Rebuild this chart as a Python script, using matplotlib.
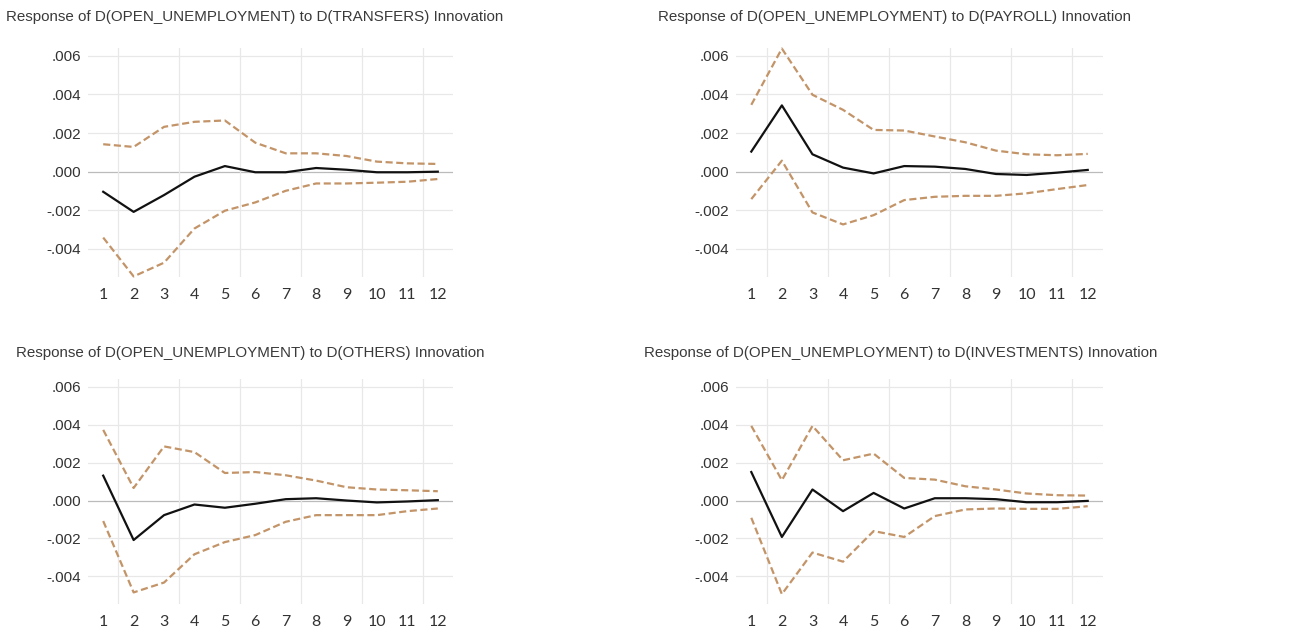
import numpy as np
import matplotlib
matplotlib.use("Agg")
import matplotlib.pyplot as plt

# horizon periods
periods = np.arange(1, 13)

# values in units of 1e-3
transfers_resp = [-1.04, -2.08, -1.21, -0.26, 0.29, -0.03, -0.03, 0.19, 0.10, -0.03, -0.03, 0.00]
transfers_up = [1.42, 1.28, 2.32, 2.58, 2.65, 1.50, 0.95, 0.95, 0.81, 0.52, 0.43, 0.40]
transfers_lo = [-3.41, -5.42, -4.71, -2.94, -2.02, -1.59, -0.99, -0.61, -0.61, -0.57, -0.52, -0.38]

payroll_resp = [1.04, 3.43, 0.90, 0.21, -0.09, 0.29, 0.26, 0.14, -0.12, -0.17, -0.05, 0.09]
payroll_up = [3.46, 6.37, 3.98, 3.20, 2.16, 2.13, 1.82, 1.52, 1.09, 0.90, 0.85, 0.92]
payroll_lo = [-1.42, 0.57, -2.11, -2.73, -2.25, -1.47, -1.30, -1.25, -1.25, -1.12, -0.90, -0.69]

others_resp = [1.31, -2.08, -0.77, -0.21, -0.38, -0.17, 0.07, 0.12, 0.00, -0.10, -0.05, 0.02]
others_up = [3.72, 0.66, 2.85, 2.55, 1.45, 1.50, 1.33, 1.05, 0.70, 0.58, 0.54, 0.49]
others_lo = [-1.08, -4.84, -4.32, -2.83, -2.19, -1.82, -1.12, -0.77, -0.77, -0.77, -0.56, -0.42]

invest_resp = [1.50, -1.92, 0.58, -0.56, 0.40, -0.42, 0.12, 0.12, 0.07, -0.09, -0.09, -0.02]
invest_up = [3.93, 1.07, 3.93, 2.12, 2.47, 1.19, 1.10, 0.75, 0.58, 0.37, 0.28, 0.26]
invest_lo = [-0.91, -4.93, -2.74, -3.22, -1.61, -1.92, -0.82, -0.47, -0.42, -0.44, -0.44, -0.30]

titles = [
    "Response of D(OPEN_UNEMPLOYMENT) to D(TRANSFERS) Innovation",
    "Response of D(OPEN_UNEMPLOYMENT) to D(PAYROLL) Innovation",
    "Response of D(OPEN_UNEMPLOYMENT) to D(OTHERS) Innovation",
    "Response of D(OPEN_UNEMPLOYMENT) to D(INVESTMENTS) Innovation",
]
yticks = [-0.004, -0.002, 0.0, 0.002, 0.004, 0.006]
ytick_labels = ["-.004", "-.002", ".000", ".002", ".004", ".006"]

W, H = 1293, 633
fig = plt.figure(figsize=(W / 100, H / 100), dpi=100)


def px_axes(x0, y0, x1, y1):
    return fig.add_axes([x0 / W, 1 - y1 / H, (x1 - x0) / W, (y1 - y0) / H])


def draw_panel(ax, resp, up, lo):
    scale = 1e-3
    ax.plot(periods, np.array(up) * scale, color="#c39468", lw=1.6,
            dashes=(3.2, 1.6), clip_on=False, zorder=3)
    ax.plot(periods, np.array(lo) * scale, color="#c39468", lw=1.6,
            dashes=(3.2, 1.6), clip_on=False, zorder=3)
    ax.plot(periods, np.array(resp) * scale, color="#111111", lw=1.6,
            clip_on=False, zorder=4)
    ax.set_xlim(0.5, 12.5)
    ax.set_ylim(-0.00545, 0.0064)
    for s in ax.spines.values():
        s.set_visible(False)
    for yv in yticks:
        ax.axhline(yv, color="#bbbbbb" if yv == 0 else "#e8e8e8", lw=0.9, zorder=1)
    for xv in np.arange(1.5, 12, 2):
        ax.axvline(xv, color="#e8e8e8", lw=0.9, zorder=1)
    ax.set_yticks(yticks)
    ax.set_yticklabels(ytick_labels, fontfamily="Liberation Sans", fontsize=11,
                       color="#333333")
    ax.set_xticks(periods)
    ax.set_xticklabels([str(p) for p in periods], fontfamily="Lato",
                       fontsize=11.5, color="#333333")
    ax.tick_params(axis="y", length=0, pad=5)
    ax.tick_params(axis="x", length=0, pad=8)


panels = [
    ((88, 48, 453, 277), (255, 17), transfers_resp, transfers_up, transfers_lo),
    ((736, 48, 1103, 277), (895, 17), payroll_resp, payroll_up, payroll_lo),
    ((88, 379, 453, 604), (250, 353), others_resp, others_up, others_lo),
    ((736, 379, 1103, 604), (901, 353), invest_resp, invest_up, invest_lo),
]

for (box, tpos, r, u, l), title in zip(panels, titles):
    ax = px_axes(*box)
    draw_panel(ax, r, u, l)
    fig.text(tpos[0] / W, 1 - tpos[1] / H, title, ha="center", va="center",
             fontfamily="Liberation Sans", fontsize=10.9, color="#3a3a3a")

fig.savefig("out.png", dpi=100)
